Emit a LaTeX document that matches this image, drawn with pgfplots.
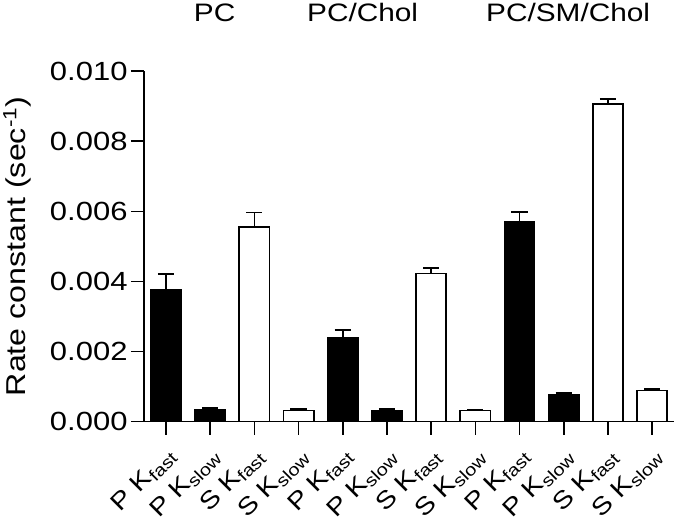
\documentclass[border=0pt]{standalone}
\usepackage{fontspec}
\setmainfont{Liberation Sans}[FakeStretch=1.18]
\usepackage{pgfplots}
\pgfplotsset{compat=1.18}
\pgfplotstableread{
x y err
0 0.00377 0.00044
1 0.00035 0.00004
4 0.00239 0.00023
5 0.00031 0.00005
8 0.00571 0.00028
9 0.00078 0.00003
}\Pdata
\pgfplotstableread{
x y err
2 0.00556 0.00041
3 0.00032 0.00004
6 0.00423 0.00015
7 0.00032 0.00003
10 0.00906 0.00015
11 0.00089 0.00005
}\Sdata
\newcommand{\bigf}{\fontsize{25}{30}\selectfont}
\newcommand{\tickf}{\fontsize{26}{30}\selectfont}
\newcommand{\labf}{\fontsize{24}{28}\selectfont}
\newcommand{\ylf}{\fontsize{27}{32}\selectfont}
\begin{document}
\begin{tikzpicture}
\begin{axis}[
  scale only axis,
  width=525pt, height=347pt,
  xmin=-0.5, xmax=11.5,
  ymin=0, ymax=0.010,
  axis x line=bottom, axis y line=left,
  axis line style={-, line width=1.6pt},
  tick style={line width=1.6pt, black},
  major tick length=13pt,
  tick align=outside,
  xtick={0,...,11},
  xticklabels={P K\textsubscript{fast},P K\textsubscript{slow},S K\textsubscript{fast},S K\textsubscript{slow},P K\textsubscript{fast},P K\textsubscript{slow},S K\textsubscript{fast},S K\textsubscript{slow},P K\textsubscript{fast},P K\textsubscript{slow},S K\textsubscript{fast},S K\textsubscript{slow}},
  xticklabel style={rotate=45, anchor=north east, font=\labf, inner sep=1pt, xshift=-7pt, yshift=-5pt},
  ytick={0,0.002,0.004,0.006,0.008,0.010},
  scaled y ticks=false,
  yticklabel style={font=\tickf, inner sep=3pt, /pgf/number format/.cd, fixed, fixed zerofill, precision=3, assume math mode=true},
  ylabel={Rate constant (sec\textsuperscript{-1})},
  ylabel style={font=\ylf},
  ylabel shift=12pt,
  ybar, bar width=30pt, bar shift=0pt,
  clip=false,
]
\addplot[draw=black, fill=black, line width=1.6pt,
  error bars/.cd, y dir=plus, y explicit,
  error bar style={line width=1.6pt, black},
  error mark options={rotate=90, mark size=8pt, line width=1.6pt, black}]
  table[x=x, y=y, y error=err]{\Pdata};
\addplot[draw=black, fill=white, line width=1.6pt,
  error bars/.cd, y dir=plus, y explicit,
  error bar style={line width=1.6pt, black},
  error mark options={rotate=90, mark size=8pt, line width=1.6pt, black}]
  table[x=x, y=y, y error=err]{\Sdata};
\node[font=\bigf] at (axis cs:1.1,0.01167) {PC};
\node[font=\bigf] at (axis cs:4.45,0.01167) {PC/Chol};
\node[font=\bigf] at (axis cs:9.1,0.01167) {PC/SM/Chol};
\end{axis}
\end{tikzpicture}
\end{document}
